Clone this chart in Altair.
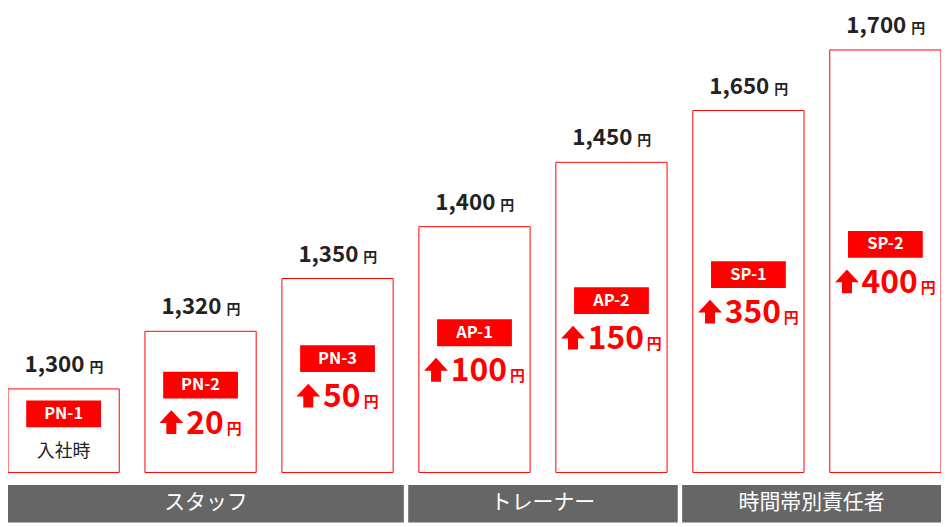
import altair as alt
import pandas as pd

# ---- data ----
codes = ["PN-1", "PN-2", "PN-3", "AP-1", "AP-2", "SP-1", "SP-2"]
wages = [1300, 1320, 1350, 1400, 1450, 1650, 1700]
raises = [0, 20, 50, 100, 150, 350, 400]          # 0 -> 入社時
levels = [87, 147, 202, 256, 323, 377, 440]       # drawn bar heights (staircase, not to scale)
start_note = "入社時"
yen = "円"
groups = ["スタッフ", "トレーナー", "時間帯別責任者"]
group_first = [0, 3, 5]
group_last = [2, 4, 6]

# ---- styling ----
RED = "#ff0000"
INK = "#222222"
GRAY = "#666666"
FONT = "Noto Sans CJK JP"
X_MIN, X_MAX = -0.406, 6.406
Y_MIN, Y_MAX = -53, 482
W, H = 939, 517
R = 139.15  # px per bar step in the reference

df = pd.DataFrame({"idx": list(range(len(codes))), "code": codes, "wage": wages,
                   "raise": raises, "level": levels})
gdf = pd.DataFrame({"group": groups, "first": group_first, "last": group_last})

xs = alt.Scale(domain=[X_MIN, X_MAX], nice=False, zero=False)
ys = alt.Scale(domain=[Y_MIN, Y_MAX], nice=False, zero=False)

def X(f):
    return alt.X(f, type="quantitative", scale=xs, axis=None)

def Y(f):
    return alt.Y(f, type="quantitative", scale=ys, axis=None)

base = alt.Chart(df).transform_calculate(
    mid="datum.level / 2",
    zero="0",
    n="length(toString(datum.raise))",
)

bars = base.transform_calculate(
    x1=f"datum.idx - {56.5 / R}", x2=f"datum.idx + {56.5 / R}"
).mark_rect(fill="white", stroke=RED, strokeWidth=1).encode(
    x=X("x1"), x2="x2", y=Y("zero"), y2="level:Q"
)

wage_num = base.transform_calculate(
    wtxt="format(datum.wage, ',')"
).mark_text(align="right", baseline="alphabetic", dx=21, dy=-17, font=FONT,
            fontSize=22.5, fontWeight="bold", color=INK).encode(
    x=X("idx"), y=Y("level"), text="wtxt:N"
)
wage_yen = base.mark_text(align="left", baseline="alphabetic", dx=26, dy=-17, font=FONT,
                          fontSize=14, fontWeight="bold", color=INK, text=yen).encode(
    x=X("idx"), y=Y("level")
)

box = base.transform_calculate(
    bx1=f"datum.idx - {38 / R}", bx2=f"datum.idx + {38 / R}",
    by1="datum.mid + 3.5", by2="datum.mid + 31.5"
).mark_rect(fill=RED).encode(x=X("bx1"), x2="bx2", y=Y("by1"), y2="by2:Q")

box_txt = base.transform_calculate(
    ty="datum.mid + 17.5"
).mark_text(baseline="middle", align="center", font=FONT, fontSize=16.5,
            fontWeight="bold", color="white").encode(
    x=X("idx"), y=Y("ty"), text="code:N"
)

note = base.transform_filter("datum.raise == 0").transform_calculate(
    ty="datum.mid - 22.5", t=f"'{start_note}'"
).mark_text(baseline="middle", align="center", font=FONT, fontSize=18,
            color=INK).encode(x=X("idx"), y=Y("ty"), text="t:N")

inc = base.transform_filter("datum.raise > 0")

inc_num = inc.transform_calculate(
    nx=f"datum.idx + {4.4 / R}", ny="datum.mid - 33", t="toString(datum.raise)"
).mark_text(align="center", baseline="alphabetic", font=FONT, fontSize=32,
            fontWeight="bold", color=RED).encode(x=X("nx"), y=Y("ny"), text="t:N")

inc_yen = inc.transform_calculate(
    nx=f"datum.idx + (4.4 + 9.35 * datum.n + 3.5) / {R}", ny="datum.mid - 33"
).mark_text(align="left", baseline="alphabetic", font=FONT, fontSize=15,
            fontWeight="bold", color=RED, text=yen).encode(x=X("nx"), y=Y("ny"))

ARROW = "M0,-1 L1,0.08 L0.42,0.08 L0.42,1 L-0.42,1 L-0.42,0.08 L-1,0.08 Z"
inc_arrow = inc.transform_calculate(
    ax=f"datum.idx + (-11 - 9.35 * datum.n) / {R}", ay="datum.mid - 21"
).mark_point(shape=ARROW, size=576, filled=True, fill=RED, strokeWidth=0,
             opacity=1).encode(x=X("ax"), y=Y("ay"))

gbase = alt.Chart(gdf).transform_calculate(
    gx1=f"max(datum.first - 0.484, {X_MIN})",
    gx2=f"min(datum.last + 0.484, {X_MAX})",
    gy1="-13", gy2="-52", ty="-32",
).transform_calculate(gx="(datum.gx1 + datum.gx2) / 2")

bands = gbase.mark_rect(fill=GRAY).encode(x=X("gx1"), x2="gx2", y=Y("gy1"), y2="gy2:Q")
band_txt = gbase.mark_text(baseline="middle", align="center", font=FONT, fontSize=21,
                           color="white").encode(x=X("gx"), y=Y("ty"), text="group:N")

chart = alt.layer(
    bars, wage_num, wage_yen, box, box_txt, note, inc_num, inc_yen, inc_arrow,
    bands, band_txt
).properties(
    width=W, height=H, padding=0, background="white",
    autosize=alt.AutoSizeParams(type="none"),
).configure_view(stroke=None)

chart.save("out.html", embed_options={"renderer": "svg", "actions": False})
